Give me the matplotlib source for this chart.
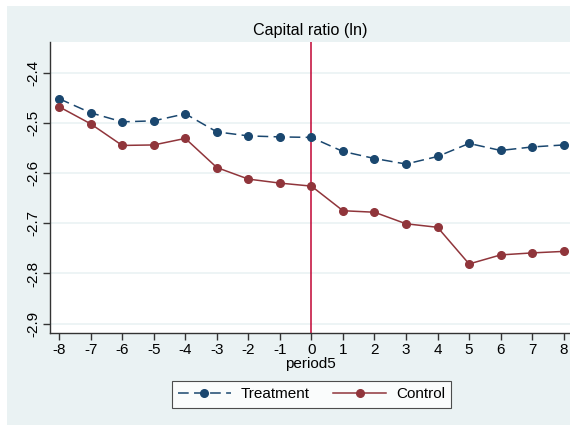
import numpy as np
import matplotlib.pyplot as plt
from matplotlib.patches import Rectangle

plt.rcParams['font.family'] = ['Liberation Sans', 'DejaVu Sans']

# === Данные ===
period = np.arange(-8, 9)
treatment = [-2.452, -2.480, -2.498, -2.496, -2.482, -2.518, -2.526, -2.528,
             -2.529, -2.557, -2.571, -2.582, -2.567, -2.541, -2.555, -2.548, -2.544]
control = [-2.468, -2.502, -2.545, -2.544, -2.531, -2.589, -2.612, -2.620,
           -2.626, -2.675, -2.678, -2.701, -2.708, -2.781, -2.763, -2.759, -2.756]
yticks = [-2.4, -2.5, -2.6, -2.7, -2.8, -2.9]

bg = '#EAF2F3'
navy = '#1A476F'
maroon = '#90353B'

fig = plt.figure(figsize=(5.7, 4.25), dpi=100)
fig.patch.set_facecolor('white')
fig.patches.append(Rectangle((7/570, 0), 1 - 7/570, 419/425, transform=fig.transFigure,
                             facecolor=bg, edgecolor='none', zorder=-10))

ax = fig.add_axes([50/570, 92/425, 1 - 50/570, 291/425])
ax.set_facecolor('white')

ax.plot(period, treatment, color=navy, lw=1.1, ls=(0, (7, 3.5)), marker='o', ms=5.5,
        label='Treatment', zorder=3)
ax.plot(period, control, color=maroon, lw=1.1, marker='o', ms=5.5,
        label='Control', zorder=3)
ax.axvline(0, color='#C10534', lw=1.1, zorder=2)

ax.set_xlim(-8.29, 8.2)
ax.set_ylim(-2.9185, -2.339)
ax.set_xticks(period)
ax.set_xticklabels([str(p) for p in period], fontsize=11)
ax.set_yticks(yticks)
ax.set_yticklabels([f'{v:g}' for v in yticks], fontsize=11, rotation=90, va='center')
ax.grid(axis='y', color=bg, lw=1.2)
ax.set_axisbelow(True)
ax.tick_params(axis='both', direction='out', length=5, width=1, color='#333333', pad=2)

for side in ['top', 'right']:
    ax.spines[side].set_visible(False)
for side in ['left', 'bottom']:
    ax.spines[side].set_color('#333333')
    ax.spines[side].set_linewidth(1)

fig.text(0.545, 1 - 31/425, 'Capital ratio (ln)', ha='center', va='center', fontsize=11.6)
fig.text(0.545, 1 - 364/425, 'period5', ha='center', va='center', fontsize=11)

leg = fig.legend(loc='center', bbox_to_anchor=(311.5/570, 1 - 394.5/425), ncol=2,
                 frameon=True, fancybox=False, fontsize=11, handlelength=3.5,
                 handletextpad=0.65, columnspacing=1.5, borderpad=0.4,
                 borderaxespad=0)
leg.get_frame().set_edgecolor('#222222')
leg.get_frame().set_linewidth(0.8)

fig.savefig('out.png', dpi=100)
